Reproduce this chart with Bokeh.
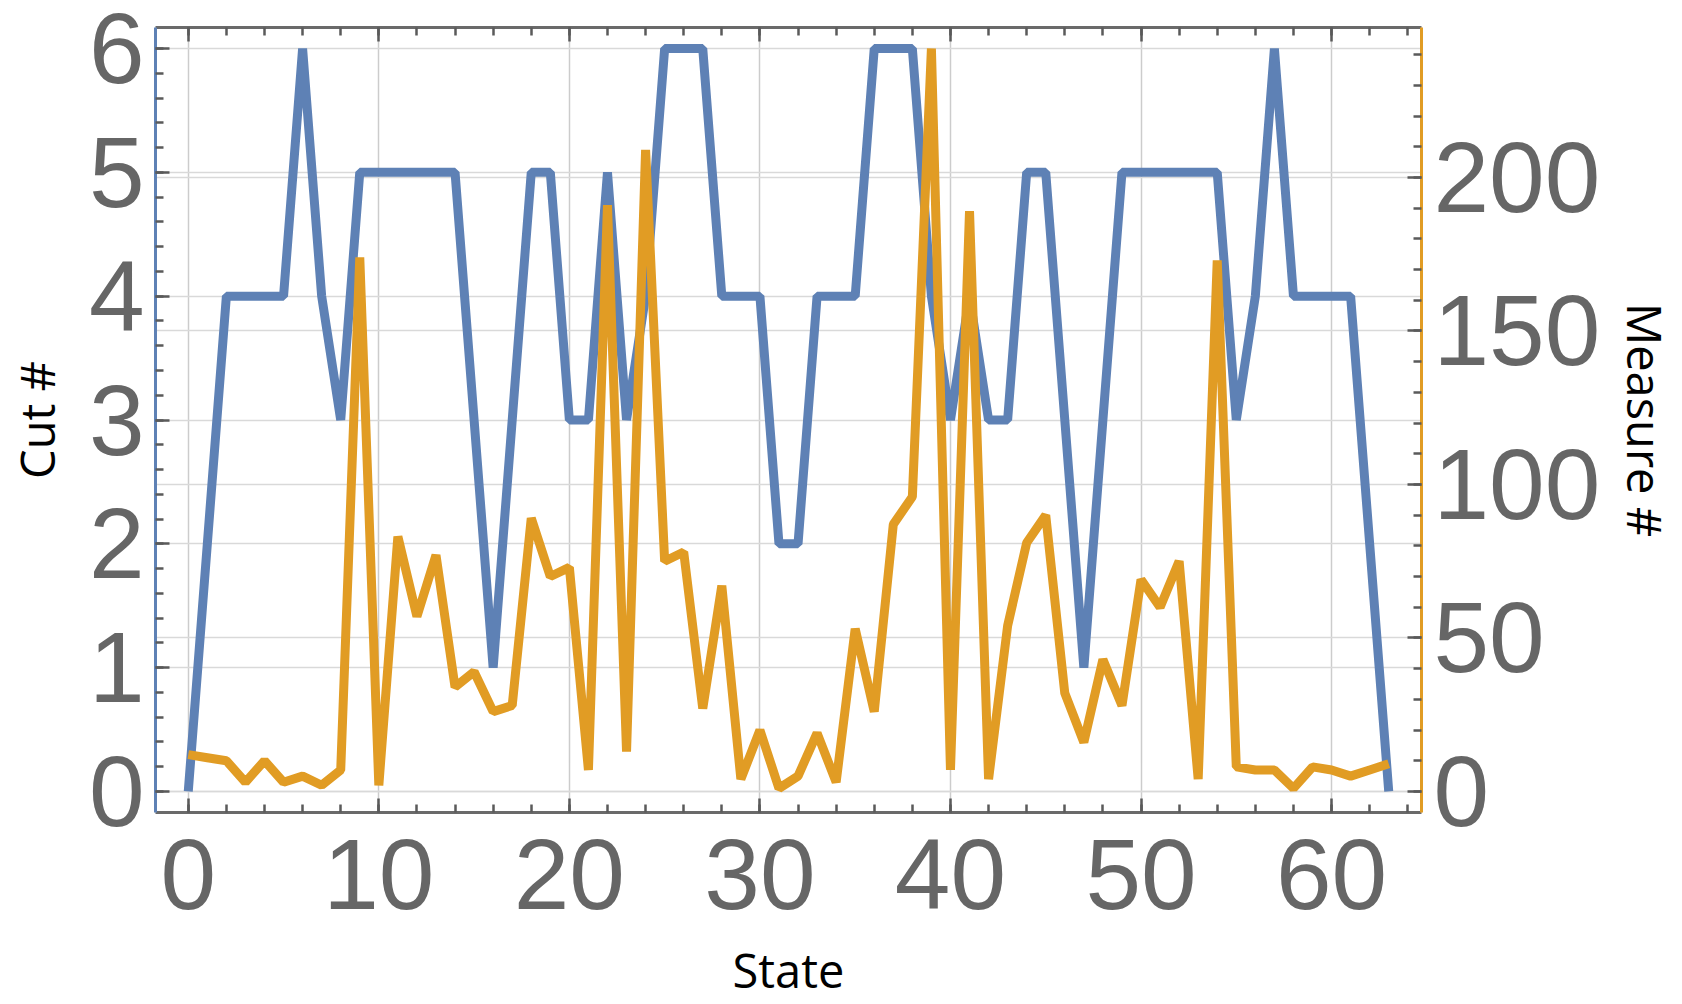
from bokeh.plotting import figure
from bokeh.models import Range1d, LinearAxis, SingleIntervalTicker, Grid
from bokeh.embed import file_html
from bokeh.resources import INLINE

# ---- data ----
states = list(range(64))
cut_values = [0, 2, 4, 4, 4, 4, 6, 4, 3, 5, 5, 5, 5, 5, 5, 3, 1, 3, 5, 5,
              3, 3, 5, 3, 4, 6, 6, 6, 4, 4, 4, 2, 2, 4, 4, 4, 6, 6, 6, 4,
              3, 4, 3, 3, 5, 5, 3, 1, 3, 5, 5, 5, 5, 5, 5, 3, 4, 6, 4, 4,
              4, 4, 2, 0]
measure_values = [12, 11, 10, 3, 10, 3, 5, 2, 7, 174, 2, 83, 57, 77, 34, 39, 26, 28, 89, 70,
                  73, 7, 191, 13, 209, 75, 78, 27, 67, 4, 20, 1, 5, 19, 3, 53, 26, 87, 96, 242,
                  7, 189, 4, 54, 81, 90, 32, 16, 43, 28, 69, 60, 75, 4, 173, 8, 7, 7, 1, 8,
                  7, 5, 7, 9]
x_label = "State"
left_label = "Cut #"
right_label = "Measure #"

BLUE = "#5E81B5"
ORANGE = "#E19C24"
TICK_COL = "#5a5a5a"
LABEL_COL = "#666666"
TICK_FONT = "Liberation Sans"
TITLE_FONT = "Open Sans"

m_scale = max(measure_values) / max(cut_values)
y0, y1 = -0.17, 6.17

p = figure(width=1682, height=1004, output_backend="svg", toolbar_location=None,
           x_range=Range1d(-1.72, 64.72), y_range=Range1d(y0, y1),
           min_border_left=155, min_border_right=261, min_border_top=27,
           min_border_bottom=192, background_fill_color="white",
           border_fill_color="white")
p.outline_line_color = None
p.extra_y_ranges = {"m": Range1d(y0 * m_scale, y1 * m_scale)}


def style(ax, ticker, line_color):
    ax.ticker = ticker
    ax.major_tick_in = 14
    ax.major_tick_out = 0
    ax.minor_tick_in = 8
    ax.minor_tick_out = 0
    ax.major_tick_line_color = TICK_COL
    ax.minor_tick_line_color = TICK_COL
    ax.major_tick_line_width = 2.5
    ax.minor_tick_line_width = 2.5
    ax.axis_line_color = line_color
    ax.axis_line_width = 3
    ax.major_label_text_font = TICK_FONT
    ax.major_label_text_font_size = "100px"
    ax.major_label_text_color = LABEL_COL
    ax.axis_label_text_font = TITLE_FONT
    ax.axis_label_text_font_size = "47px"
    ax.axis_label_text_font_style = "normal"
    ax.axis_label_text_color = "black"


xb = p.xaxis[0]
style(xb, SingleIntervalTicker(interval=10, num_minor_ticks=5), "#6a6a6a")
xb.axis_label = x_label
xb.major_label_standoff = 27
xb.axis_label_standoff = 26

yl = p.yaxis[0]
style(yl, SingleIntervalTicker(interval=1, num_minor_ticks=5), BLUE)
yl.axis_label = left_label
yl.major_label_standoff = 11
yl.axis_label_standoff = 17

xt = LinearAxis()
style(xt, SingleIntervalTicker(interval=10, num_minor_ticks=5), "#6a6a6a")
xt.major_label_text_color = None
xt.major_label_text_font_size = "11px"
xt.major_label_standoff = 0
p.add_layout(xt, "above")

yr = LinearAxis(y_range_name="m")
style(yr, SingleIntervalTicker(interval=50, num_minor_ticks=5), ORANGE)
yr.axis_label = right_label
yr.major_label_standoff = 12
yr.axis_label_standoff = 10
p.add_layout(yr, "right")

p.xgrid.grid_line_color = "#cccccc"
p.xgrid.grid_line_width = 1.5
p.ygrid.grid_line_color = "#d9d9d9"
p.ygrid.grid_line_width = 1.5
mgrid = Grid(dimension=1, ticker=SingleIntervalTicker(interval=50), y_range_name="m",
             grid_line_color="#d9d9d9", grid_line_width=1.5)
p.add_layout(mgrid)

p.line(states, cut_values, line_color=BLUE, line_width=9, line_join="bevel")
p.line(states, measure_values, line_color=ORANGE, line_width=9, line_join="bevel",
       y_range_name="m")

open("out.html", "w").write(file_html(p, INLINE))
